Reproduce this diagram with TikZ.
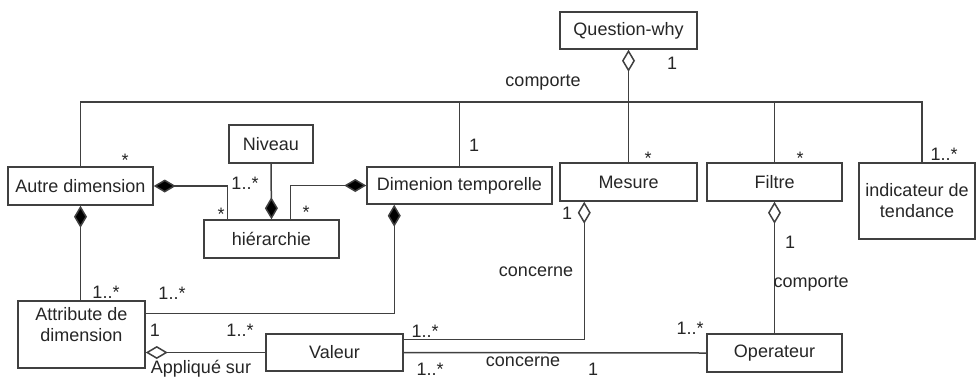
\documentclass[tikz,border=0pt]{standalone}
\usepackage{fontspec}
\setmainfont{Liberation Sans}
\usetikzlibrary{arrows.meta,calc}
\begin{document}
\begin{tikzpicture}[x=0.5pt,y=-0.5pt,
  every node/.style={font=\fontsize{9}{10.5}\selectfont, text=black!85},
  cls/.style 2 args={draw=black!75, line width=0.75pt, fill=white, inner sep=0pt,
    minimum width=#1*0.5pt, minimum height=#2*0.5pt, align=center},
  assoc/.style={draw=black!75, line width=0.75pt},
  comp/.style={{Diamond[length=11pt,width=6.5pt,fill=black]}-},
  compend/.style={-{Diamond[length=11pt,width=6.5pt,fill=black]}},
  aggr/.style={{Diamond[length=11pt,width=6.5pt,open,fill=white]}-},
  mult/.style={inner sep=0pt}]
\useasboundingbox (0,0) rectangle (977,376);

% classes
\node[cls={137}{37}] (qwhy)   at (628.5,30.5) {Question-why};
\node[cls={145}{38}] (autre)  at (80.5,186)   {Autre dimension};
\node[cls={84}{38}]  (niveau) at (271,144)    {Niveau};
\node[cls={185}{37}] (dimt)   at (459.5,185.5){Dimenion temporelle};
\node[cls={135}{38}] (hier)   at (271.5,239)  {hiérarchie};
\node[cls={137}{38}] (mesure) at (628.5,182)  {Mesure};
\node[cls={135}{38}] (filtre) at (774.5,182)  {Filtre};
\node[cls={116}{76}] (indic)  at (917,201)    {indicateur de\\tendance};
\node[cls={127}{67}] (attr)   at (81.5,334.5) {};
\node[align=center] (attrtxt) at (81.5,325) {Attribute de\\dimension};
\node[cls={137}{37}] (valeur) at (334.5,352.5){Valeur};
\node[cls={135}{38}] (oper)   at (774.5,353)  {Operateur};

% Question-why aggregates the analysis elements
\draw[assoc,aggr] (qwhy.south) -- (mesure.north);
\coordinate (busL) at (80.5,102);
\coordinate (busR) at (922,102);
\draw[assoc] (autre.north) -- (busL) -- (busR) -- (busR |- indic.north);
\draw[assoc] (dimt.north) -- (dimt.north |- busL);
\draw[assoc] (filtre.north) -- (filtre.north |- busL);

% hierarchies of the dimensions
\draw[assoc,comp] (autre.east) -| ($(hier.north west)+(24,0)$);
\draw[assoc,compend] (niveau.south) -- (hier.north);
\draw[assoc,comp] (dimt.west) -| ($(hier.north west)+(87,0)$);

% dimension attributes
\draw[assoc,comp] (autre.south) -- (autre.south |- attr.north);
\draw[assoc,comp] ($(dimt.south west)+(28,0)$) |- ($(attr.north east)+(0,13)$);
\draw[assoc,aggr] (attr.east |- valeur.west) -- (valeur.west);

% values, measures and operators
\draw[assoc,aggr] ($(mesure.south west)+(25,0)$) |- ($(valeur.north east)+(0,6)$);
\draw[assoc] (valeur.east) -- (oper.west);
\draw[assoc,aggr] (filtre.south) -- (oper.north);

% multiplicities and role names
\node[mult] (m1)  at (672,63)  {1};
\node[mult] (r1)  at (543,83)  {comporte};
\node[mult] (m2)  at (125,160) {*};
\node[mult] (m3)  at (474,145) {1};
\node[mult] (m4)  at (648,158) {*};
\node[mult] (m5)  at (800,158) {*};
\node[mult] (m6)  at (944,154) {1..*};
\node[mult] (m7)  at (245,183) {1..*};
\node[mult] (m8)  at (221,214) {*};
\node[mult] (m9)  at (306,212) {*};
\node[mult] (m10) at (106,292) {1..*};
\node[mult] (m11) at (172,293) {1..*};
\node[mult] (m12) at (155,330) {1};
\node[mult] (m13) at (240,330) {1..*};
\node[mult] (r2)  at (201,369) {Appliqué sur};
\node[mult] (m14) at (567,213) {1};
\node[mult] (r3)  at (536,272) {concerne};
\node[mult] (m15) at (425,331) {1..*};
\node[mult] (m16) at (430,369) {1..*};
\node[mult] (r4)  at (523,362) {concerne};
\node[mult] (m17) at (593,369) {1};
\node[mult] (m18) at (690,328) {1..*};
\node[mult] (m19) at (790,242) {1};
\node[mult] (r5)  at (811,284) {comporte};
\end{tikzpicture}
\end{document}
